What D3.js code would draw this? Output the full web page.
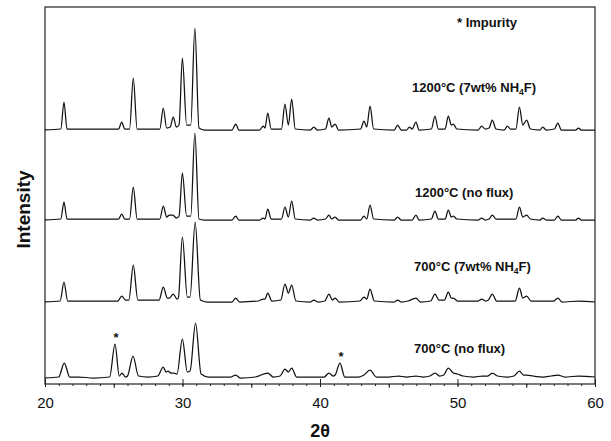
<!DOCTYPE html>
<html>
<head>
<meta charset="utf-8">
<script src="https://cdn.jsdelivr.net/npm/d3@7"></script>
<style>
  html, body { margin: 0; padding: 0; background: #fff; }
  svg { display: block; }
  text { font-family: "Liberation Sans", Arial, sans-serif; fill: #111; }
</style>
</head>
<body>
<svg id="chart" width="611" height="441"></svg>
<script>
// XRD patterns, 2θ (deg) vs intensity (a.u., relative to each pattern's own baseline)
const sampleNames = ["1200°C (7wt% NH4F)", "1200°C (no flux)", "700°C (7wt% NH4F)", "700°C (no flux)"];
const offsets = [254, 164, 82, 6];   // vertical stacking offset of each pattern

const pattern1200Flux = [
  [20,0],[21.15,1],[21.38,28],[21.6,1],[25.35,1],[25.58,8],[25.8,1],[26.15,1],[26.42,52],[26.7,1],
  [28.35,1],[28.6,22],[28.85,2],[29.1,3],[29.33,13],[29.55,3],[29.75,5],[29.99,72],[30.3,5],[30.6,5],
  [30.9,102],[31.2,2],[31.6,0],[33.6,0],[33.87,6],[34.1,0],[35.6,0],[35.88,4],[36.0,2],[36.2,17],
  [36.45,1],[37.2,1],[37.45,26],[37.7,5],[37.94,31],[38.2,1],[39.3,0],[39.55,3],[39.8,0],[40.4,1],
  [40.65,12],[40.85,3],[41.1,6],[41.35,0],[42.95,1],[43.2,9],[43.4,3],[43.64,24],[43.9,1],[45.4,0],
  [45.65,5],[45.9,0],[46.3,0],[46.5,3],[46.7,1],[46.98,8],[47.2,0],[48.1,1],[48.36,14],[48.6,1],
  [49.1,1],[49.33,14],[49.55,5],[49.7,6],[49.95,1],[51.5,0],[51.76,4],[52.0,1],[52.3,2],[52.53,10],
  [52.8,1],[53.4,0],[53.63,4],[53.85,1],[54.25,1],[54.5,23],[54.75,5],[55.03,10],[55.3,1],[56.0,0],
  [56.2,3],[56.45,0],[57.05,1],[57.3,7],[57.55,0],[58.6,0],[58.8,2],[59.0,0],[60,0]
];

const pattern1200NoFlux = [
  [20,0],[21.15,1],[21.38,18],[21.6,1],[25.35,1],[25.58,6],[25.8,1],[26.15,1],[26.42,33],[26.7,1],
  [28.35,1],[28.6,14],[28.85,3],[29.05,5],[29.3,5],[29.55,2],[29.75,4],[29.99,47],[30.3,4],[30.6,4],
  [30.9,87],[31.2,1],[31.6,0],[33.6,0],[33.87,4],[34.1,0],[35.6,0],[35.88,2],[36.0,1],[36.2,11],
  [36.45,1],[37.2,1],[37.45,13],[37.7,3],[37.94,19],[38.2,1],[39.3,0],[39.55,2],[39.8,0],[40.4,1],
  [40.65,5],[40.85,1],[41.1,3],[41.35,0],[42.95,0],[43.2,4],[43.4,1],[43.64,15],[43.9,1],[45.4,0],
  [45.65,3],[45.9,0],[46.7,0],[46.98,5],[47.2,0],[48.1,1],[48.36,9],[48.6,1],[49.1,1],[49.33,10],
  [49.55,3],[49.7,4],[49.95,1],[51.5,0],[51.76,2],[52.0,0],[52.3,1],[52.53,5],[52.8,1],[54.25,1],
  [54.5,13],[54.75,3],[55.03,5],[55.3,1],[56.0,0],[56.2,2],[56.45,0],[57.05,0],[57.3,4],[57.55,0],
  [58.6,0],[58.8,2],[59.0,0],[60,0]
];

const pattern700Flux = [
  [20,0],[21.1,1],[21.38,20],[21.65,1],[25.3,1],[25.58,6],[25.85,2],[26.1,2],[26.42,37],[26.75,2],
  [28.3,2],[28.6,15],[28.9,4],[29.05,4],[29.33,8],[29.6,3],[29.7,4],[29.99,65],[30.35,5],[30.55,5],
  [30.92,80],[31.3,2],[31.8,0],[33.6,0],[33.87,4],[34.15,0],[35.5,1],[35.88,3],[36.0,3],[36.2,9],
  [36.5,1],[37.15,2],[37.45,18],[37.7,9],[37.94,17],[38.25,1],[39.3,0],[39.55,2],[39.85,0],[40.35,1],
  [40.65,8],[40.9,2],[41.1,4],[41.4,0],[42.9,1],[43.2,5],[43.4,3],[43.64,13],[43.95,1],[45.4,0],
  [45.65,2],[45.9,0],[46.4,1],[46.98,4],[47.3,0],[48.05,1],[48.36,8],[48.65,2],[49.05,2],[49.33,10],
  [49.55,4],[49.7,4],[50.0,1],[51.5,1],[51.76,3],[52.05,1],[52.25,2],[52.53,8],[52.85,1],[53.6,1],
  [54.2,1],[54.5,14],[54.75,4],[55.03,6],[55.35,1],[56.2,1],[57.0,1],[57.3,4],[57.6,0],[58.8,1],[60,0]
];

const pattern700NoFlux = [
  [20,0],[21.0,1],[21.4,15],[21.8,1],[22.5,1],[23.5,0],[24.7,1],[25.09,34],[25.4,2],[25.6,5],
  [25.85,1],[26.0,2],[26.4,22],[26.8,2],[27.5,1],[28.2,2],[28.6,11],[28.8,6],[28.95,7],[29.15,5],
  [29.35,5],[29.6,4],[29.99,39],[30.35,6],[30.55,7],[30.95,55],[31.35,4],[31.9,1],[33.5,1],[33.87,3],
  [34.2,0],[35.3,1],[36.2,5],[36.6,1],[37.1,2],[37.45,9],[37.7,6],[37.94,10],[38.3,1],[39.5,1],
  [40.3,1],[40.65,5],[40.95,2],[41.1,3],[41.45,15],[41.8,1],[42.8,1],[43.2,3],[43.64,8],[44.1,1],
  [45.0,1],[45.7,2],[46.3,1],[46.98,2],[47.5,1],[48.0,2],[48.36,5],[48.7,2],[49.0,3],[49.33,10],
  [49.7,5],[50.0,4],[50.4,2],[51.2,1],[51.8,2],[52.2,2],[52.53,5],[52.9,2],[53.6,1],[54.1,2],
  [54.5,7],[54.8,3],[55.03,3],[55.5,2],[56.2,1],[56.8,2],[57.3,3],[57.8,1],[58.8,2],[60,1]
];

const patterns = [pattern1200Flux, pattern1200NoFlux, pattern700Flux, pattern700NoFlux];

// impurity reflections marked with * on the 700°C (no flux) pattern
const impurityPeaks = [25.09, 41.45];
const impurityPattern = 3;

const xTicks = [20, 30, 40, 50, 60];

// ---- layout ----
const svg = d3.select("#chart");
const plot = { left: 45, right: 595, top: 7, bottom: 384 };

const x = d3.scaleLinear().domain([20, 60]).range([plot.left, plot.right]);
const y = d3.scaleLinear().domain([0, 377]).range([plot.bottom, plot.top]);

// frame
svg.append("rect")
  .attr("x", plot.left).attr("y", plot.top)
  .attr("width", plot.right - plot.left).attr("height", plot.bottom - plot.top)
  .attr("fill", "none").attr("stroke", "#222").attr("stroke-width", 1.2);

// bottom axis: labelled ticks every 10°, half ticks every 5°, small ticks every 1°
const gx = svg.append("g").attr("transform", `translate(0,${plot.bottom})`);
gx.append("g")
  .call(d3.axisBottom(x).tickValues(d3.range(20, 61, 1)).tickSize(2).tickFormat(""))
  .call(g => g.select(".domain").remove());
gx.append("g")
  .call(d3.axisBottom(x).tickValues(d3.range(25, 60, 10)).tickSize(4).tickFormat(""))
  .call(g => g.select(".domain").remove());
gx.append("g")
  .call(d3.axisBottom(x).tickValues(xTicks).tickSizeInner(-5).tickSizeOuter(0).tickPadding(13).tickFormat(d3.format("d")))
  .call(g => g.select(".domain").remove())
  .call(g => g.selectAll("text").attr("font-size", 15).attr("fill", "#111")
    .style("font-family", "'Liberation Sans', Arial, sans-serif"));
gx.selectAll("line").attr("stroke", "#222");
// outward part of the labelled ticks
gx.append("g")
  .call(d3.axisBottom(x).tickValues(xTicks).tickSize(3).tickFormat(""))
  .call(g => g.select(".domain").remove())
  .selectAll("line").attr("stroke", "#222");

// patterns
const line = d3.line()
  .x(d => x(d[0]))
  .y(d => y(d[1]))
  .curve(d3.curveMonotoneX);

patterns.forEach((pts, i) => {
  svg.append("path")
    .datum(pts.map(p => [p[0], p[1] + offsets[i]]))
    .attr("d", line)
    .attr("fill", "none")
    .attr("stroke", "#111")
    .attr("stroke-width", 1.25)
    .attr("stroke-linejoin", "round");
});

// impurity stars above their reflections
const impData = patterns[impurityPattern];
impurityPeaks.forEach(pos => {
  const top = impData.reduce((a, b) => Math.abs(b[0] - pos) < Math.abs(a[0] - pos) ? b : a);
  svg.append("text")
    .attr("x", x(pos) + 1)
    .attr("y", y(top[1] + offsets[impurityPattern]) - 2)
    .attr("text-anchor", "middle")
    .attr("font-size", 13).attr("font-weight", "bold")
    .text("*");
});

// sample labels
const labelX = [412, 415, 414, 414];
const labelY = [92, 197, 271, 353];
sampleNames.forEach((name, i) => {
  const t = svg.append("text")
    .attr("x", labelX[i]).attr("y", labelY[i])
    .attr("font-size", 13).attr("font-weight", "bold");
  const m = name.match(/^(.*NH)4(F\))$/);
  if (m) {
    t.append("tspan").text(m[1]);
    t.append("tspan").attr("font-size", 8.5).attr("dy", 3).text("4");
    t.append("tspan").attr("dy", -3).text(m[2]);
  } else {
    t.text(name);
  }
});

// legend note
svg.append("text")
  .attr("x", 457).attr("y", 27)
  .attr("font-size", 13).attr("font-weight", "bold")
  .text("* Impurity");

// axis titles
svg.append("text")
  .attr("x", (plot.left + plot.right) / 2).attr("y", 437)
  .attr("text-anchor", "middle")
  .attr("font-size", 18).attr("font-weight", "bold")
  .text("2θ");

svg.append("text")
  .attr("transform", `translate(30,${(plot.top + plot.bottom) / 2 + 14}) rotate(-90)`)
  .attr("text-anchor", "middle")
  .attr("font-size", 19).attr("font-weight", "bold")
  .text("Intensity");
</script>
</body>
</html>
